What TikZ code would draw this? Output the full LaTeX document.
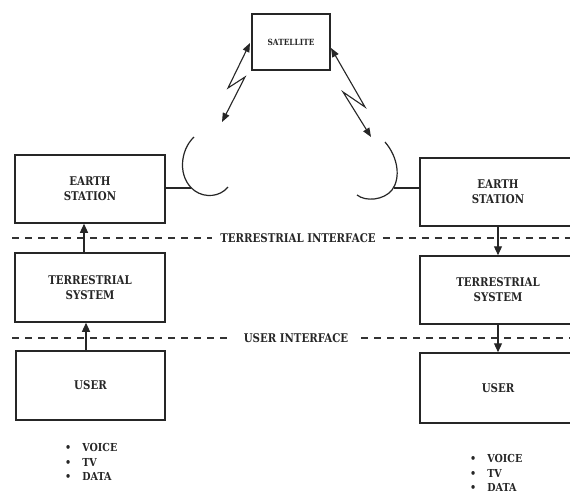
\documentclass[tikz,border=0pt]{standalone}
\usepackage{fontspec}
\newfontfamily\lblfont[FakeStretch=0.85]{DejaVu Serif}
\newfontfamily\smallfont[FakeStretch=0.87]{DejaVu Serif}
\usetikzlibrary{arrows.meta}
\begin{document}
\begin{tikzpicture}[x=1pt,y=-1pt,
  blk/.style={draw=black!85,line width=1.5pt,rectangle,inner sep=0pt,
    font=\lblfont\bfseries\fontsize{12}{15}\selectfont,align=center,text=black!85},
  dashline/.style={draw=black!80,line width=1.8pt,dash pattern=on 7pt off 6pt},
  flow/.style={draw=black!85,line width=1.1pt,-{Triangle[length=9pt,width=8pt]}},
  link/.style={draw=black!85,line width=1.1pt,{Triangle[length=9pt,width=7pt]}-{Triangle[length=9pt,width=7pt]}},
  dish/.style={draw=black!85,line width=1.2pt},
  lbl/.style={font=\lblfont\bfseries\fontsize{12}{15}\selectfont,text=black!85,inner sep=0pt},
  bul/.style={font=\smallfont\bfseries\fontsize{11}{14.2}\selectfont,text=black!85,align=left,inner sep=0pt,anchor=west}]
\useasboundingbox (0,0) rectangle (570,493);
\clip (0,0) rectangle (570,493);
\fill[white] (0,0) rectangle (570,493);

% satellite
\node[blk,minimum width=78pt,minimum height=56pt,font=\smallfont\bfseries\fontsize{8.5}{10}\selectfont] (sat) at (291,42) {SATELLITE};

% left chain
\node[blk,minimum width=150pt,minimum height=68pt] (les) at (90,189) {EARTH\\STATION};
\node[blk,minimum width=150pt,minimum height=69pt] (lts) at (90,287.5) {TERRESTRIAL\\SYSTEM};
\node[blk,minimum width=149pt,minimum height=69pt] (lus) at (90.5,385.5) {USER};

% right chain
\node[blk,minimum width=156pt,minimum height=68pt] (res) at (498,192) {EARTH\\STATION};
\node[blk,minimum width=156pt,minimum height=68pt] (rts) at (498,290) {TERRESTRIAL\\SYSTEM};
\node[blk,minimum width=156pt,minimum height=70pt] (rus) at (498,388) {USER};

% interfaces
\node[lbl] (tif) at (298,238) {TERRESTRIAL INTERFACE};
\coordinate (tl) at (12,238);
\coordinate (tr) at (572,238);
\draw[dashline] (tl) -- ([xshift=-8pt]tif.west);
\draw[dashline] ([xshift=7pt]tif.east) -- (tr);

\node[lbl] (uif) at (296,338) {USER INTERFACE};
\coordinate (ul) at (12,338);
\coordinate (ur) at (572,338);
\draw[dashline] (ul) -- ([xshift=-14pt]uif.west);
\draw[dashline] ([xshift=13pt]uif.east) -- (ur);

% flows
\draw[flow] ([xshift=-6pt]lts.north) -- ([xshift=-6pt]les.south);
\draw[flow] ([xshift=-4.5pt]lus.north) -- ([xshift=-4pt]lts.south);
\draw[flow] (res.south) -- (rts.north);
\draw[flow] (rts.south) -- (rus.north);

% dishes
\draw[dish] (194,137) .. controls (180,150) and (177,178) .. (195,191)
  .. controls (205,198) and (220,197) .. (228,187);
\coordinate (lfeed) at (191,188);
\draw[dish] (les.east |- lfeed) -- (lfeed);

\draw[dish] (385,142) .. controls (398,157) and (401,178) .. (392,190)
  .. controls (384,200) and (366,202) .. (357,195);
\coordinate (rfeed) at (394,188);
\draw[dish] (rfeed) -- (res.west |- rfeed);

% radio links
\coordinate (lsat) at (250,43);
\coordinate (lgnd) at (222,122);
\draw[link] (lgnd) -- (245,77) -- (228,88) -- (lsat);
\coordinate (rsat) at (331,48);
\coordinate (rgnd) at (371,137);
\draw[link] (rsat) -- (365,107) -- (343,92) -- (rgnd);

% service lists
\node[bul] (lsv) at (65,462) {\textbullet\hspace{11pt}VOICE\\\textbullet\hspace{11pt}TV\\\textbullet\hspace{11pt}DATA};
\node[bul] (rsv) at (470,473) {\textbullet\hspace{11pt}VOICE\\\textbullet\hspace{11pt}TV\\\textbullet\hspace{11pt}DATA};
\end{tikzpicture}
\end{document}
